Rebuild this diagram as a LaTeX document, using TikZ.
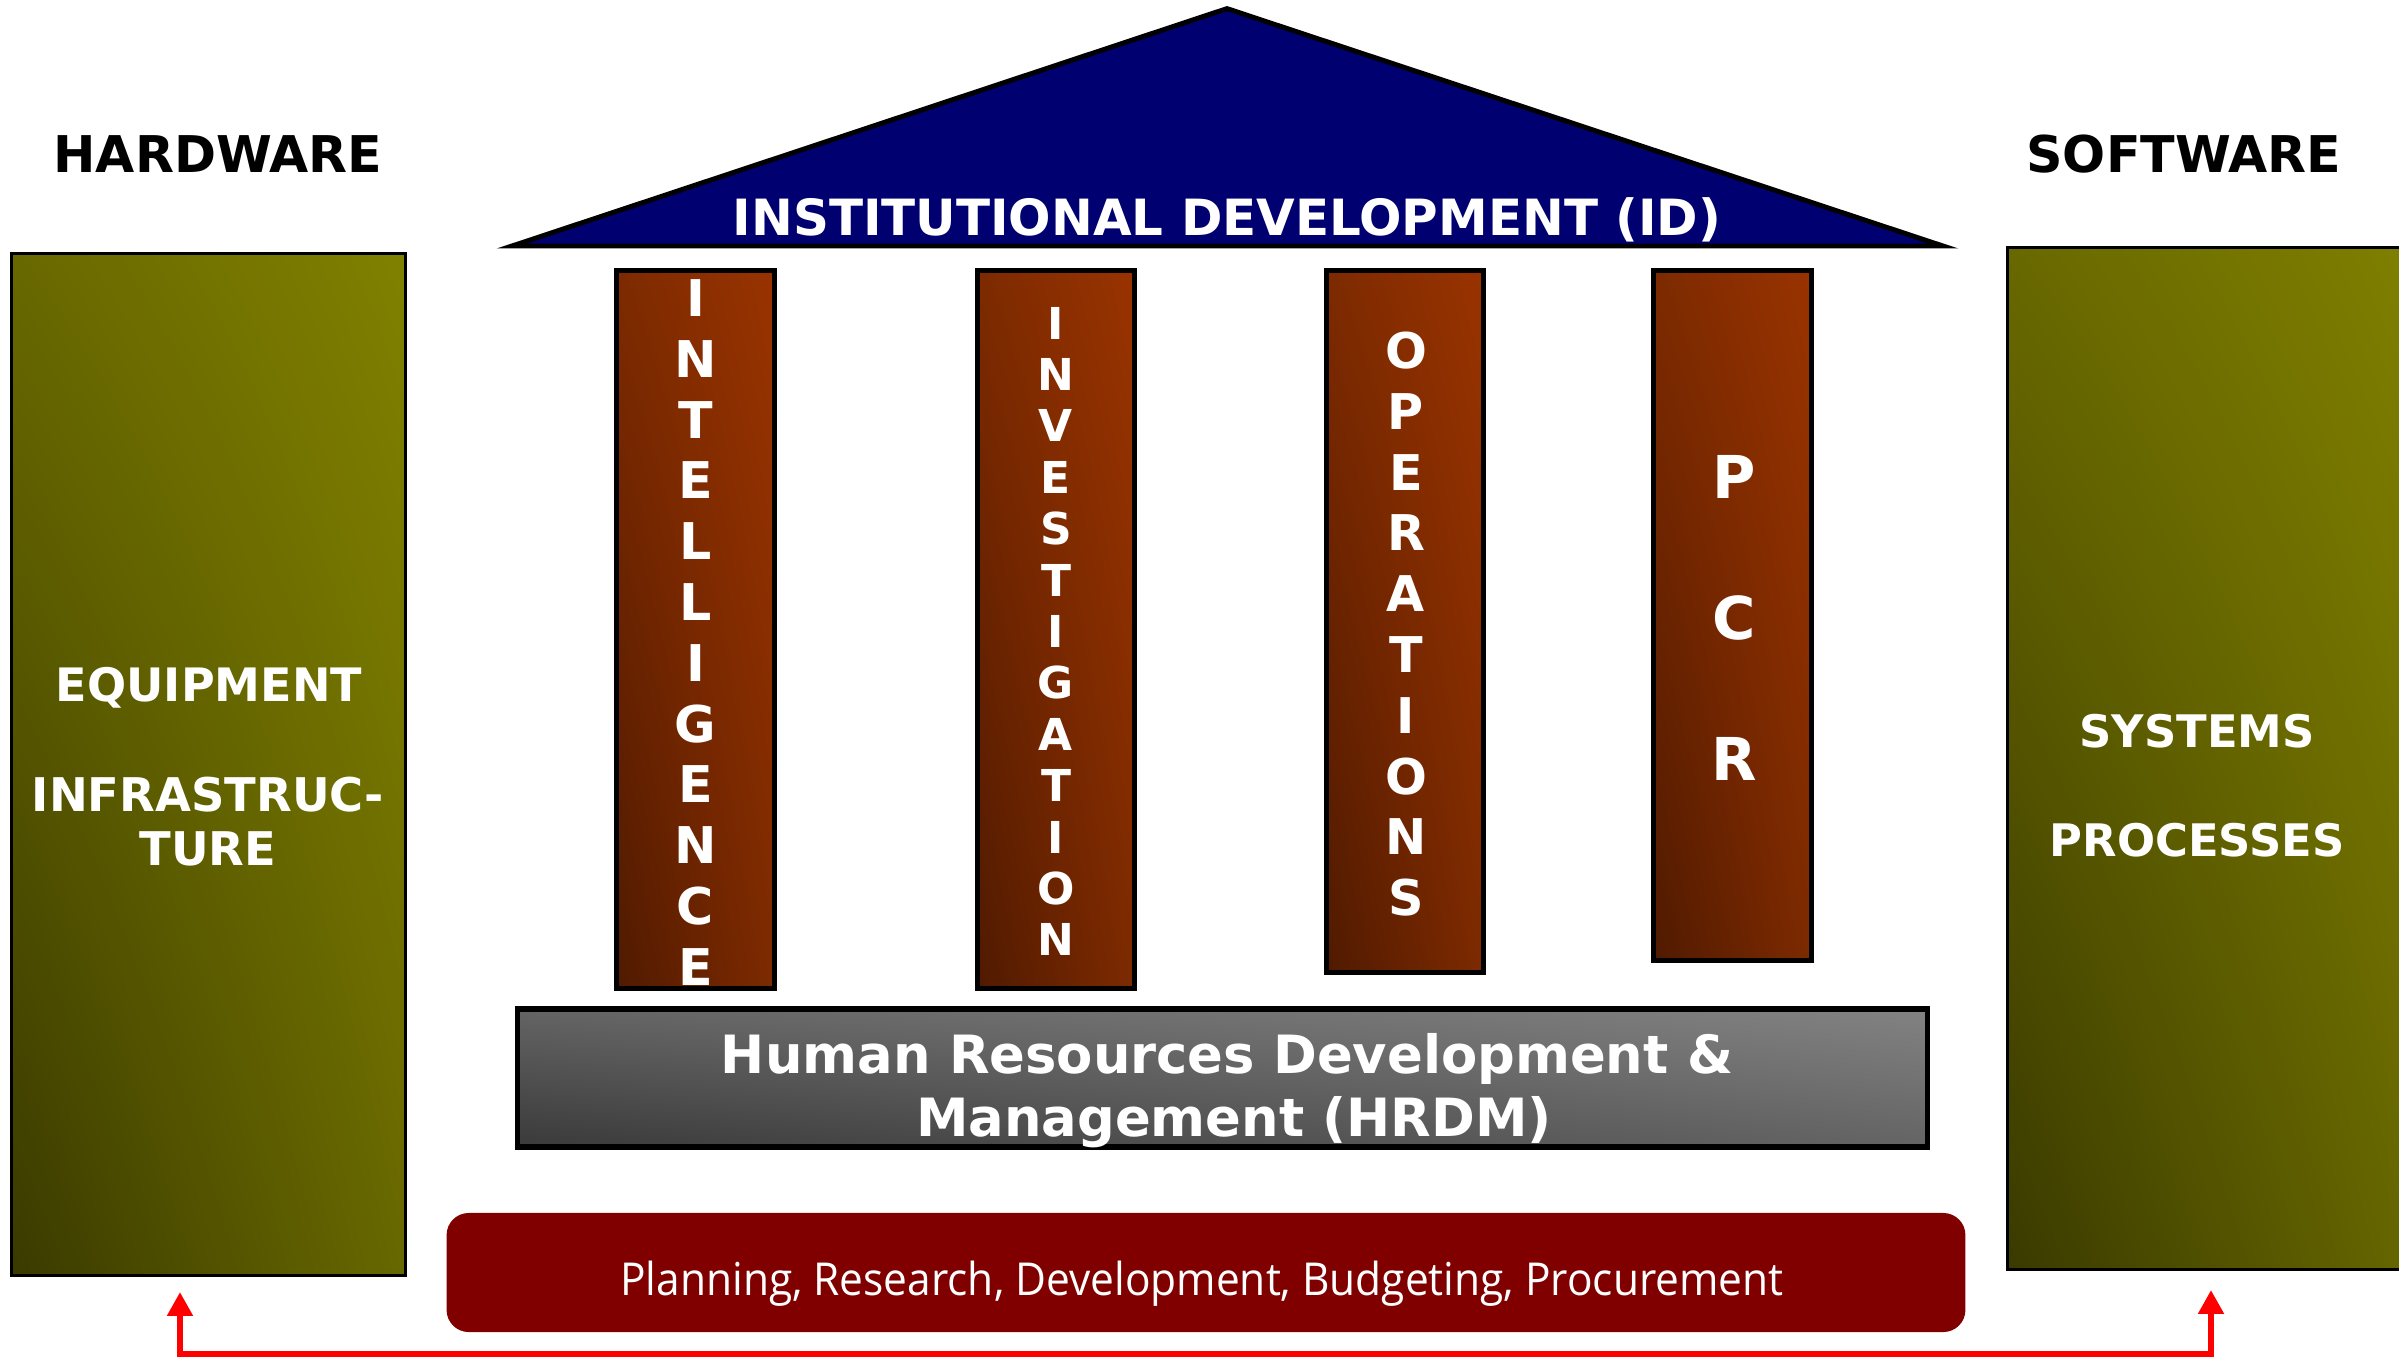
\documentclass[tikz,border=0pt]{standalone}
\usepackage{fontspec}
\setmainfont{DejaVu Sans}
\newfontfamily\plfont{Open Sans}
\usetikzlibrary{shadings,arrows.meta}
\definecolor{navyroof}{RGB}{0,0,112}
\definecolor{olivelt}{RGB}{128,128,0}
\definecolor{olivemid}{RGB}{104,104,0}
\definecolor{olivedk}{RGB}{58,58,0}
\definecolor{brownlt}{RGB}{153,51,0}
\definecolor{brownmid}{RGB}{125,42,0}
\definecolor{browndk}{RGB}{80,26,0}
\definecolor{graylt}{RGB}{130,130,130}
\definecolor{graymid}{RGB}{100,100,100}
\definecolor{graydk}{RGB}{58,58,58}
\definecolor{plred}{RGB}{128,0,0}
\definecolor{arrowred}{RGB}{255,0,0}
\tikzset{
  olivebox/.style={draw=black, line width=0.9pt, shade,
    upper left=olivemid, upper right=olivelt, lower left=olivedk, lower right=olivemid,
    inner sep=0pt},
  pillarbox/.style={draw=black, line width=1.54pt, shade,
    upper left=brownmid, upper right=brownlt, lower left=browndk, lower right=brownmid,
    inner sep=0pt},
  hrdmbox/.style={draw=black, line width=1.6pt, shade,
    upper left=graymid, upper right=graylt, lower left=graydk, lower right=graymid,
    inner sep=0pt},
  planbox/.style={fill=plred, rounded corners=6.3pt, inner sep=0pt},
  headtext/.style={text=black, inner sep=0pt, font=\bfseries\fontsize{14.4}{17}\selectfont,
    text height=10.5pt, text depth=0pt},
  sidetext/.style={text=white, inner sep=0pt, text depth=0pt},
  lettA/.style={text=white, inner sep=0pt, font=\bfseries\fontsize{14.4}{17}\selectfont,
    text height=10.5pt, text depth=0pt},
  lettB/.style={text=white, inner sep=0pt, font=\bfseries\fontsize{12.5}{15}\selectfont,
    text height=9.1pt, text depth=0pt},
  lettC/.style={text=white, inner sep=0pt, font=\bfseries\fontsize{14}{17}\selectfont,
    text height=10.2pt, text depth=0pt},
  lettD/.style={text=white, inner sep=0pt, font=\bfseries\fontsize{16.8}{20}\selectfont,
    text height=12.25pt, text depth=0pt},
  hrdmtext/.style={text=white, inner sep=0pt, font=\bfseries\fontsize{15}{18}\selectfont,
    text height=10.94pt, text depth=0pt},
  redline/.style={draw=arrowred, line width=1.8pt,
    {Triangle[width=7pt,length=6.8pt]}-{Triangle[width=7pt,length=6.8pt]}}
}
\begin{document}
\begin{tikzpicture}[x=0.01cm, y=-0.01cm]
\useasboundingbox (0,0) rectangle (2399,1357);
\fill[white] (0,0) rectangle (2399,1357);

% side boxes
\node[olivebox, minimum width=3.94cm, minimum height=10.22cm] (lbox) at (208.5,764.5) {};
\node[olivebox, minimum width=4.2cm, minimum height=10.22cm] (rbox) at (2217.5,758.5) {};

% headings
\node[headtext] (hw) at (218,154) {HARDWARE};
\node[headtext] (sw) at (2184,154) {SOFTWARE};

% side texts
\node[sidetext, font=\bfseries\fontsize{13.1}{16}\selectfont, text height=9.55pt] (eq) at (209,684.5) {EQUIPMENT};
\node[sidetext, font=\bfseries\fontsize{13.2}{16}\selectfont, text height=9.6pt] (inf1) at (208,795) {INFRASTRUC-};
\node[sidetext, font=\bfseries\fontsize{13.2}{16}\selectfont, text height=9.6pt] (inf2) at (208,848.5) {TURE};
\node[sidetext, font=\bfseries\fontsize{12.75}{16}\selectfont, text height=9.3pt] (sys) at (2197,731) {SYSTEMS};
\node[sidetext, font=\bfseries\fontsize{12.75}{16}\selectfont, text height=9.3pt] (proc) at (2197,840) {PROCESSES};

% roof
\coordinate (roofL) at (512,246);
\coordinate (roofT) at (1227,8.6);
\coordinate (roofR) at (1943,246);
\draw[fill=navyroof, line width=1.4pt] (roofL) -- (roofT) -- (roofR) -- cycle;
\node[text=white, inner sep=0pt, font=\bfseries\fontsize{14.2}{17}\selectfont,
  text height=10.35pt, text depth=0pt] (idtext) at (1227,217) {INSTITUTIONAL DEVELOPMENT (ID)};

% pillars
\node[pillarbox, minimum width=1.576cm, minimum height=7.176cm] (p1) at (695.5,629.5) {};
\node[pillarbox, minimum width=1.566cm, minimum height=7.176cm] (p2) at (1056,629.5) {};
\node[pillarbox, minimum width=1.566cm, minimum height=7.016cm] (p3) at (1405,621.5) {};
\node[pillarbox, minimum width=1.576cm, minimum height=6.896cm] (p4) at (1732.5,615.5) {};

\foreach \ch [count=\k] in {I,N,T,E,L,L,I,G,E,N,C,E}
  \node[lettA] (pa\k) at (695.5,{298+(\k-1)*60.8}) {\ch};
\foreach \ch [count=\k] in {I,N,V,E,S,T,I,G,A,T,I,O,N}
  \node[lettB] (pb\k) at (1056,{323+(\k-1)*51.4}) {\ch};
\foreach \ch [count=\k] in {O,P,E,R,A,T,I,O,N,S}
  \node[lettC] (pc\k) at (1406,{350.5+(\k-1)*60.8}) {\ch};
\foreach \ch [count=\k] in {P,C,R}
  \node[lettD] (pd\k) at (1734,{476.5+(\k-1)*141}) {\ch};

% HRDM
\node[hrdmbox, minimum width=14.09cm, minimum height=1.38cm] (hrdm) at (1222.5,1078) {};
\node[hrdmtext] (hrdm1) at (1227,1054) {Human Resources Development \&};
\node[hrdmtext] (hrdm2) at (1234,1117) {Management (HRDM)};

% planning
\node[planbox, minimum width=15.18cm, minimum height=1.19cm] (plan) at (1206,1272.5) {};
\node[text=white, inner sep=0pt, font=\plfont\fontsize{12.9}{15}\selectfont,
  text height=9.2pt, text depth=0pt] (plantext) at (1202,1279) {\scalebox{0.935}[1]{Planning, Research, Development, Budgeting, Procurement}};

% red connector
\coordinate (arL) at (180,1292);
\coordinate (cL) at (180,1354);
\coordinate (cR) at (2211,1354);
\coordinate (arR) at (2211,1290);
\draw[redline] (arL) -- (cL) -- (cR) -- (arR);
\end{tikzpicture}
\end{document}
